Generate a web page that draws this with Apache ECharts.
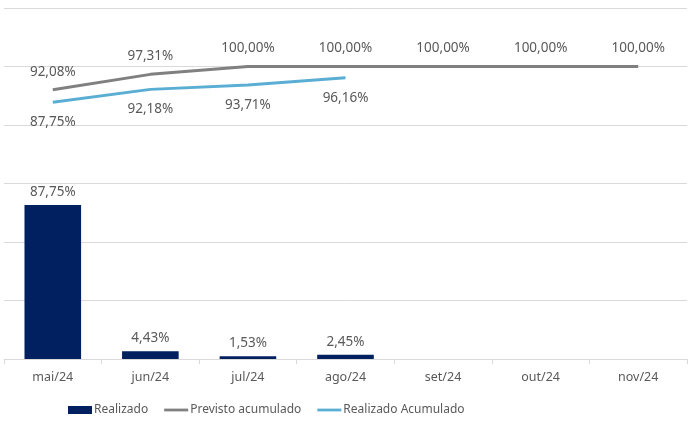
<!DOCTYPE html>
<html>
<head>
<meta charset="utf-8">
<script src="https://cdn.jsdelivr.net/npm/echarts@6/dist/echarts.min.js"></script>
<style>
  html, body { margin: 0; padding: 0; background: #fff; }
  #chart { width: 691px; height: 421px; }
</style>
</head>
<body>
<div id="chart"></div>
<script>
const months = ['mai/24', 'jun/24', 'jul/24', 'ago/24', 'set/24', 'out/24', 'nov/24']
const realizado = [87.75, 4.43, 1.53, 2.45, null, null, null]
const previstoAcumulado = [92.08, 97.31, 100, 100, 100, 100, 100]
const realizadoAcumulado = [87.75, 92.18, 93.71, 96.16, null, null, null]

const textColor = '#595959'
const fontFamily = '"Noto Sans", sans-serif'
const lineIcon = 'path://M0,0L26,0L26,3L0,3Z'

// formata no padrão pt-BR
function pct(v) {
  return v.toFixed(2).replace('.', ',') + '%'
}

const chart = echarts.init(document.getElementById('chart'))
chart.setOption({
  animation: false,
  textStyle: { fontFamily: fontFamily },
  grid: { left: 4, right: 4, top: 8, bottom: 62 },
  legend: {
    left: 63,
    bottom: 0,
    itemGap: 16,
    itemWidth: 24,
    itemHeight: 8,
    textStyle: { color: textColor, fontSize: 12, fontFamily: fontFamily, padding: [0, 0, 0, -3] },
    data: [
      { name: 'Realizado', icon: 'rect' },
      { name: 'Previsto acumulado', icon: lineIcon },
      { name: 'Realizado Acumulado', icon: lineIcon }
    ]
  },
  xAxis: {
    type: 'category',
    data: months,
    axisLine: { lineStyle: { color: '#d9d9d9', width: 1 } },
    axisTick: { show: true, length: 5, lineStyle: { color: '#d9d9d9' } },
    axisLabel: { color: textColor, fontSize: 12.5, margin: 12 }
  },
  yAxis: [
    {
      type: 'value',
      min: 0,
      max: 200,
      show: false,
      splitLine: { show: false }
    },
    {
      type: 'value',
      min: 0,
      max: 120,
      interval: 20,
      axisLabel: { show: false },
      axisLine: { show: false },
      axisTick: { show: false },
      splitLine: { lineStyle: { color: '#d9d9d9', width: 1 } }
    }
  ],
  series: [
    {
      name: 'Realizado',
      type: 'bar',
      yAxisIndex: 0,
      barWidth: '58%',
      data: realizado,
      itemStyle: { color: '#002060' },
      label: {
        show: true,
        position: 'top',
        distance: 6,
        color: textColor,
        fontSize: 13.5,
        formatter: (p) => pct(p.value)
      }
    },
    {
      name: 'Previsto acumulado',
      type: 'line',
      yAxisIndex: 1,
      data: previstoAcumulado,
      symbol: 'circle',
      symbolSize: 0,
      lineStyle: { color: '#808080', width: 3 },
      itemStyle: { color: '#808080' },
      label: {
        show: true,
        position: 'top',
        distance: 11,
        color: textColor,
        fontSize: 13.5,
        formatter: (p) => pct(p.value)
      }
    },
    {
      name: 'Realizado Acumulado',
      type: 'line',
      yAxisIndex: 1,
      data: realizadoAcumulado,
      symbol: 'circle',
      symbolSize: 0,
      lineStyle: { color: '#5aaed3', width: 3 },
      itemStyle: { color: '#5aaed3' },
      label: {
        show: true,
        position: 'bottom',
        distance: 13,
        color: textColor,
        fontSize: 13.5,
        formatter: (p) => pct(p.value)
      }
    }
  ]
})

window.addEventListener('resize', () => chart.resize())
</script>
</body>
</html>
